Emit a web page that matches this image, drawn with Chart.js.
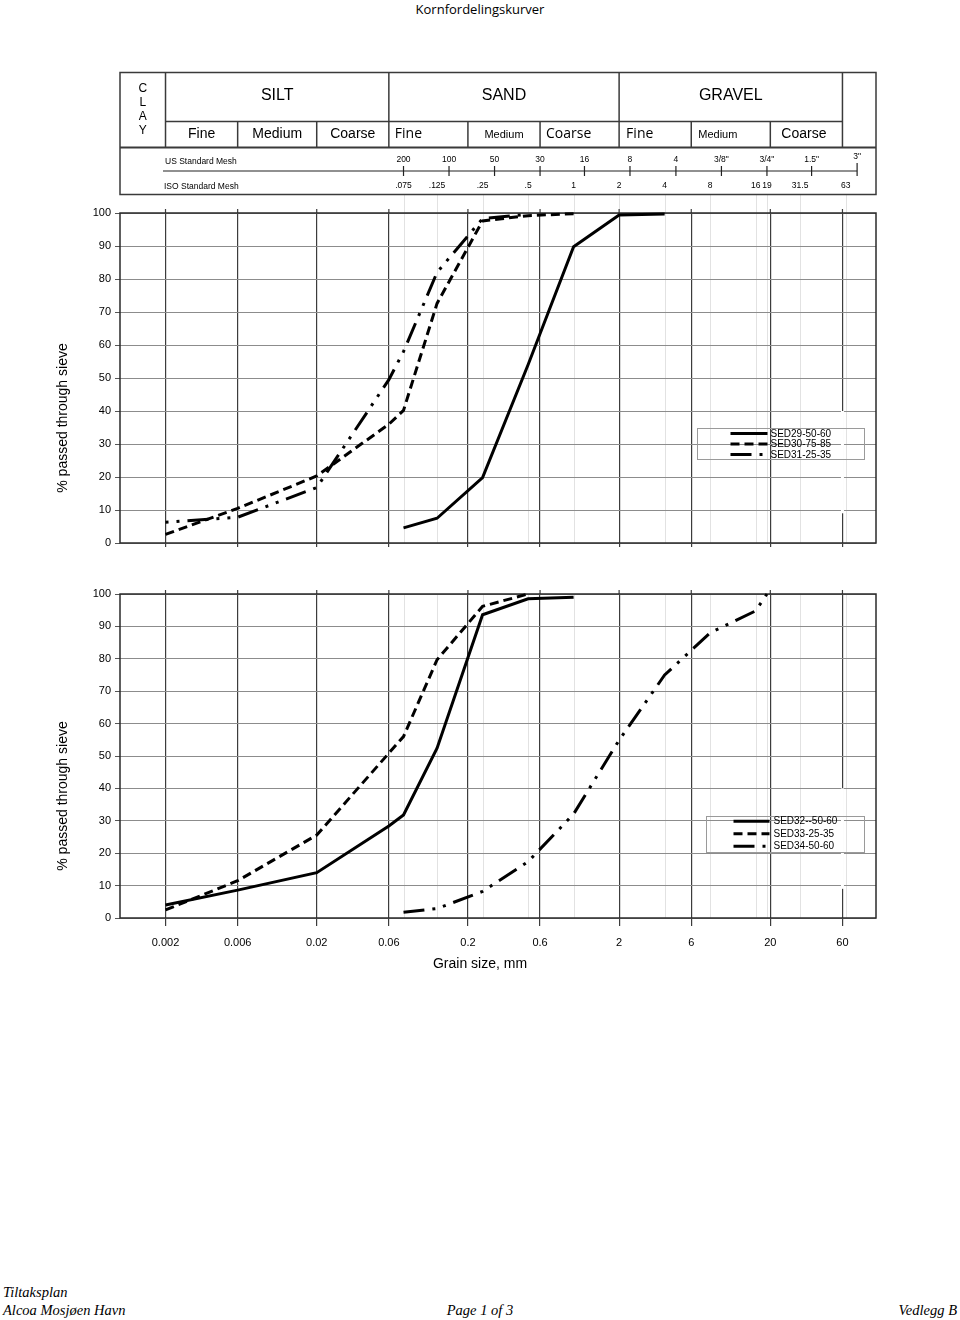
<!DOCTYPE html>
<html>
<head>
<meta charset="utf-8">
<title>Kornfordelingskurver</title>
<script src="https://cdn.jsdelivr.net/npm/chart.js@4.4.1/dist/chart.umd.min.js"></script>
<style>
body{margin:0;background:#fff;width:960px;height:1320px;position:relative;overflow:hidden;font-family:"Liberation Sans",Arial,sans-serif;color:#000;}
canvas{position:absolute;left:0;}
#topChart{top:0;}
#bottomChart{top:560px;}
#title{position:absolute;left:0;top:0;width:960px;text-align:center;font-family:"Open Sans",sans-serif;font-size:13px;line-height:18px;}
.ytitle{position:absolute;width:200px;height:16px;text-align:center;font-size:14px;line-height:16px;transform:rotate(-90deg);white-space:nowrap;}
.xtitle{position:absolute;left:380px;top:955px;width:200px;text-align:center;font-size:14px;line-height:16px;}
.foot{position:absolute;font-family:"Liberation Serif",serif;font-style:italic;font-size:14.5px;line-height:18px;white-space:nowrap;}
</style>
</head>
<body>
<div id="title">Kornfordelingskurver</div>
<canvas id="topChart" width="960" height="560"></canvas>
<canvas id="bottomChart" width="960" height="420"></canvas>
<div class="ytitle" style="left:-38px;top:410px">% passed through sieve</div>
<div class="ytitle" style="left:-38px;top:788px">% passed through sieve</div>
<div class="xtitle">Grain size, mm</div>
<div class="foot" style="left:3px;top:1283px">Tiltaksplan</div>
<div class="foot" style="left:3px;top:1301px">Alcoa Mosjøen Havn</div>
<div class="foot" style="left:380px;width:200px;text-align:center;top:1301px">Page 1 of 3</div>
<div class="foot" style="right:3px;top:1301px">Vedlegg B</div>
<script>
// grain size axis (mm)
const gridSizes = [0.002, 0.006, 0.02, 0.06, 0.2, 0.6, 2, 6, 20, 60];
const gridLabels = ["0.002", "0.006", "0.02", "0.06", "0.2", "0.6", "2", "6", "20", "60"];
const passTicks = [0, 10, 20, 30, 40, 50, 60, 70, 80, 90, 100];

// sieve header
const isoSizes = [0.075, 0.125, 0.25, 0.5, 1, 2, 4, 8, 16, 19, 31.5, 63];
const isoLabels = [".075", ".125", ".25", ".5", "1", "2", "4", "8", "16", "19", "31.5", "63"];
const usSizes = [0.075, 0.15, 0.3, 0.6, 1.18, 2.36, 4.75, 9.5, 19, 37.5, 75];
const usLabels = ["200", "100", "50", "30", "16", "8", "4", "3/8\"", "3/4\"", "1.5\"", "3\""];
const classNames = ["SILT", "SAND", "GRAVEL"];
const subNames = ["Fine", "Medium", "Coarse"];

// upper diagram
const sed29Size = [0.075, 0.125, 0.25, 0.5, 1, 2, 4];
const sed29Pass = [4.6, 7.5, 19.8, 54, 89.8, 99.4, 99.7];
const sed30Size = [0.002, 0.006, 0.02, 0.06, 0.075, 0.125, 0.25, 0.5, 1];
const sed30Pass = [2.6, 10.5, 20.3, 36, 40.2, 72.6, 97.6, 99.2, 99.8];
const sed31Size = [0.002, 0.006, 0.02, 0.06, 0.075, 0.125, 0.25, 0.5];
const sed31Pass = [6.3, 7.8, 16.8, 49.5, 58, 82, 98.3, 99.6];

// lower diagram
const sed32Size = [0.002, 0.006, 0.02, 0.06, 0.075, 0.125, 0.25, 0.5, 1];
const sed32Pass = [4, 8.6, 14, 28.4, 31.8, 52.4, 93.6, 98.5, 99];
const sed33Size = [0.002, 0.006, 0.02, 0.075, 0.125, 0.25, 0.5];
const sed33Pass = [2.5, 11.5, 25.6, 56, 79.7, 96.2, 100];
const sed34Size = [0.075, 0.125, 0.25, 0.5, 1, 2, 4, 8, 16, 19];
const sed34Pass = [1.8, 2.9, 8.2, 17.4, 32.1, 54.9, 75, 88, 94.8, 100];

const FONT = "'Liberation Sans', Arial, sans-serif";
const DASHED = [9, 5];
const DASHDOT = [21, 8, 3, 8, 3, 8];

function points(size, pass){
    return size.map((s, i) => ({x: s, y: pass[i]}));
}

function curve(label, size, pass, dash, offset){
    return {
        label: label,
        data: points(size, pass),
        borderColor: "#000",
        borderWidth: 3,
        borderDash: dash,
        borderDashOffset: offset || 0,
        borderCapStyle: "butt",
        pointRadius: 0,
        fill: false,
        tension: 0,
        clip: false
    };
}

function vline(ctx, x, y0, y1){
    ctx.beginPath(); ctx.moveTo(x, y0); ctx.lineTo(x, y1); ctx.stroke();
}
function hline(ctx, x0, x1, y){
    ctx.beginPath(); ctx.moveTo(x0, y); ctx.lineTo(x1, y); ctx.stroke();
}

// sieve lines, frame, stubs above the frame
const sheetPlugin = {
    id: "sheet",
    beforeDraw(chart, args, o){
        const {ctx, chartArea: a, scales: {x}} = chart;
        ctx.save();
        ctx.strokeStyle = "#e2e2e2";
        ctx.lineWidth = 1;
        isoSizes.forEach(s => vline(ctx, Math.round(x.getPixelForValue(s)) + 0.5, o.lightTop || a.top, a.bottom));
        ctx.restore();
    },
    beforeDatasetsDraw(chart){
        const {ctx, chartArea: a, scales: {x, y}} = chart;
        ctx.save();
        // the 60 mm line is broken behind the key
        const gx = x.getPixelForValue(60);
        ctx.fillStyle = "#fff";
        ctx.fillRect(gx - 1.5, y.getPixelForValue(40), 3, y.getPixelForValue(9) - y.getPixelForValue(40));
        ctx.strokeStyle = "#3c3c3c";
        ctx.lineWidth = 1.2;
        gridSizes.forEach(s => vline(ctx, x.getPixelForValue(s), a.top - 4, a.top));
        ctx.strokeStyle = "#2a2a2a";
        ctx.lineWidth = 1.5;
        ctx.strokeRect(a.left, a.top, a.right - a.left, a.bottom - a.top);
        ctx.restore();
    }
};

// classification table above the upper diagram
const headerPlugin = {
    id: "header",
    afterDraw(chart){
        const {ctx, chartArea: a, scales: {x}} = chart;
        const px = v => x.getPixelForValue(v);
        const top = 72.5, mid = 121.5, sub = 147.5, bot = 194.5;
        ctx.save();
        ctx.strokeStyle = "#3a3a3a";
        ctx.lineWidth = 1.5;
        ctx.strokeRect(a.left, top, a.right - a.left, bot - top);
        hline(ctx, px(gridSizes[0]), px(gridSizes[9]), mid);
        [0, 3, 6, 9].forEach(i => vline(ctx, px(gridSizes[i]), top, sub));
        [1, 2, 4, 5, 7, 8].forEach(i => vline(ctx, px(gridSizes[i]), mid, sub));
        ctx.lineWidth = 2;
        hline(ctx, a.left, a.right, sub);

        ctx.fillStyle = "#000";
        ctx.textBaseline = "middle";
        ctx.textAlign = "center";
        ctx.font = "12px " + FONT;
        const cx = (a.left + px(gridSizes[0])) / 2;
        "CLAY".split("").forEach((c, i) => ctx.fillText(c, cx, 89 + i * 14));

        ctx.font = "16px " + FONT;
        classNames.forEach((n, k) => {
            ctx.fillText(n, (px(gridSizes[3 * k]) + px(gridSizes[3 * k + 3])) / 2, 96);
        });

        // sub classes, mixed type as on the sheet
        const look = [
            {f: "14px " + FONT, al: "center"}, {f: "14px " + FONT, al: "center"}, {f: "14px " + FONT, al: "center"},
            {f: "14px 'Open Sans'", al: "left", dx: 6}, {f: "11px " + FONT, al: "center"}, {f: "14px 'Open Sans'", al: "left", dx: 6},
            {f: "14px 'Open Sans'", al: "left", dx: 7}, {f: "11px " + FONT, al: "left", dx: 7}, {f: "14px " + FONT, al: "left", dx: 11}
        ];
        for(let i = 0; i < 9; i++){
            const l = px(gridSizes[i]), r = px(gridSizes[i + 1]);
            ctx.font = look[i].f;
            ctx.textAlign = look[i].al;
            ctx.fillText(subNames[i % 3], look[i].al === "center" ? (l + r) / 2 : l + look[i].dx, 134.5);
        }

        // mesh scale
        ctx.font = "8.5px " + FONT;
        ctx.textAlign = "left";
        ctx.fillText("US Standard Mesh", a.left + 45, 162);
        ctx.fillText("ISO Standard Mesh", a.left + 44, 187);
        ctx.lineWidth = 1.2;
        ctx.strokeStyle = "#222";
        hline(ctx, a.left + 43, px(usSizes[usSizes.length - 1]), 171);
        ctx.textAlign = "center";
        usSizes.forEach((s, i) => {
            const last = i === usSizes.length - 1;
            vline(ctx, px(s), last ? 163 : 166, 176);
            ctx.fillText(usLabels[i], px(s), last ? 157 : 160);
        });
        isoSizes.forEach((s, i) => ctx.fillText(isoLabels[i], px(s), 185.5));
        ctx.restore();
    }
};

// key box inside the plot
const keyPlugin = {
    id: "key",
    afterDraw(chart, args, o){
        const {ctx, chartArea: a} = chart;
        const x0 = Math.round(a.left + o.left) + 0.5, y0 = Math.round(a.top + o.top) + 0.5;
        ctx.save();
        ctx.strokeStyle = "#9a9a9a";
        ctx.lineWidth = 1;
        ctx.strokeRect(x0, y0, o.width, o.height);
        ctx.font = "10px " + FONT;
        ctx.textBaseline = "middle";
        ctx.textAlign = "left";
        ctx.fillStyle = "#000";
        chart.data.datasets.forEach((d, i) => {
            const y = y0 + o.firstRow + i * o.rowGap;
            ctx.strokeStyle = "#000";
            ctx.lineWidth = 3;
            ctx.lineCap = "butt";
            ctx.setLineDash(d.borderDash || []);
            hline(ctx, x0 + o.lineFrom, x0 + o.lineTo, y);
            ctx.setLineDash([]);
            ctx.fillText(d.label, x0 + o.textAt, y + 0.5);
        });
        ctx.restore();
    }
};

function makeChart(id, datasets, cfg){
    const ctx = document.getElementById(id).getContext("2d");
    return new Chart(ctx, {
        type: "line",
        data: {datasets: datasets},
        options: {
            responsive: false,
            animation: false,
            devicePixelRatio: 1,
            events: [],
            layout: {padding: {top: cfg.padTop, right: 84, bottom: 0, left: 0}},
            scales: {
                x: {
                    type: "logarithmic",
                    min: 0.001,
                    max: 100,
                    afterBuildTicks: s => { s.ticks = gridSizes.map(v => ({value: v})); },
                    afterFit: s => { s.height = cfg.xHeight; },
                    ticks: {
                        display: cfg.xLabels,
                        autoSkip: false,
                        maxRotation: 0,
                        padding: 10,
                        color: "#000",
                        font: {family: FONT, size: 11},
                        callback: (v, i) => gridLabels[i]
                    },
                    grid: {color: "#3c3c3c", lineWidth: 1.2, tickLength: cfg.tickLen, tickColor: "#3c3c3c"},
                    border: {display: false}
                },
                y: {
                    min: 0,
                    max: 100,
                    afterBuildTicks: s => { s.ticks = passTicks.map(v => ({value: v})); },
                    afterFit: s => { s.width = 120; },
                    ticks: {color: "#000", padding: 4, font: {family: FONT, size: 11}},
                    grid: {color: "#8c8c8c", lineWidth: 1, tickLength: 5, tickColor: "#555"},
                    border: {display: false}
                }
            },
            plugins: {
                legend: {display: false},
                tooltip: {enabled: false},
                sheet: {lightTop: cfg.lightTop},
                key: cfg.key
            }
        },
        plugins: cfg.plugins
    });
}

makeChart("topChart", [
    curve("SED29-50-60", sed29Size, sed29Pass, []),
    curve("SED30-75-85", sed30Size, sed30Pass, DASHED),
    curve("SED31-25-35", sed31Size, sed31Pass, DASHDOT, 29)
], {
    padTop: 213, xHeight: 17, xLabels: false, tickLen: 4, lightTop: 195,
    key: {left: 577, top: 215, width: 167, height: 31, firstRow: 5, rowGap: 10.5, lineFrom: 33, lineTo: 70, textAt: 73},
    plugins: [sheetPlugin, headerPlugin, keyPlugin]
});

makeChart("bottomChart", [
    curve("SED32--50-60", sed32Size, sed32Pass, []),
    curve("SED33-25-35", sed33Size, sed33Pass, DASHED),
    curve("SED34-50-60", sed34Size, sed34Pass, DASHDOT)
], {
    padTop: 34, xHeight: 62, xLabels: true, tickLen: 8, lightTop: 0,
    key: {left: 586, top: 222, width: 158, height: 36, firstRow: 4.7, rowGap: 12.5, lineFrom: 27, lineTo: 63, textAt: 67},
    plugins: [sheetPlugin, keyPlugin]
});
</script>
</body>
</html>
